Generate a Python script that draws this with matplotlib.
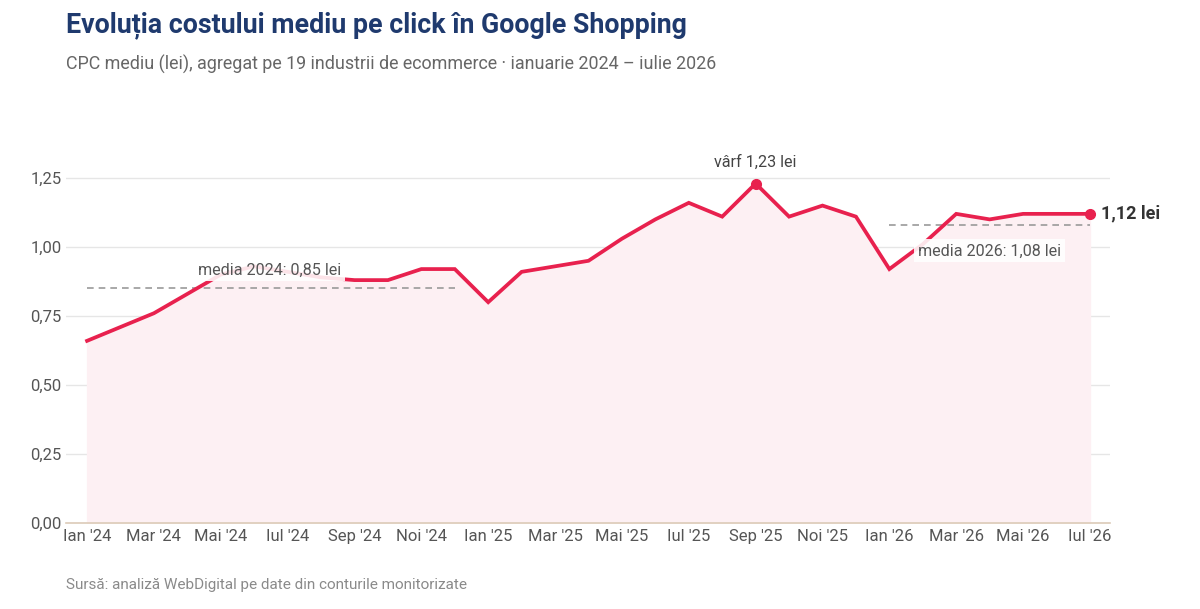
import matplotlib.pyplot as plt
import numpy as np

plt.rcParams['font.family'] = ['Roboto', 'DejaVu Sans']

# Data: average CPC (lei), Jan 2024 - Jul 2026
luni = ["Ian", "Feb", "Mar", "Apr", "Mai", "Iun", "Iul", "Aug", "Sep", "Oct", "Noi", "Dec"]
ani = [24] * 12 + [25] * 12 + [26] * 7
cpc = [0.66, 0.71, 0.76, 0.83, 0.90, 0.93, 0.91, 0.89, 0.88, 0.88, 0.92, 0.92,
       0.80, 0.91, 0.93, 0.95, 1.03, 1.10, 1.16, 1.11, 1.23, 1.11, 1.15, 1.11,
       0.92, 1.01, 1.12, 1.10, 1.12, 1.12, 1.12]
media_2024 = 0.85
media_2026 = 1.08

etichete = [f"{luni[i % 12]} '{ani[i]}" for i in range(len(cpc))]
x = np.arange(len(cpc))

red = '#e8214e'
gray_txt = '#555555'

fig = plt.figure(figsize=(12, 6.09), dpi=100)
ax = fig.add_axes([66 / 1200, 86 / 609, 1044 / 1200, 373 / 609])

ax.fill_between(x, cpc, 0, color='#fdf0f3', zorder=1)
ax.plot(x, cpc, color=red, lw=2.7, zorder=3, solid_joinstyle='miter')

# averages
ax.plot([0, 11], [media_2024, media_2024], ls=(0, (4, 3)), color='#9a9a9a', lw=1.2, zorder=2)
i26 = ani.index(26)
ax.plot([i26, len(cpc) - 1], [media_2026, media_2026], ls=(0, (4, 3)), color='#9a9a9a', lw=1.2, zorder=2)

ax.text(5.47, 0.917, "media 2024: 0,85 lei", ha='center', va='center', fontsize=11.6, color=gray_txt,
        zorder=4, bbox=dict(boxstyle='square,pad=0.2', fc='white', ec='none', alpha=0.88))
ax.text(24.86, 0.986, "media 2026: 1,08 lei", ha='left', va='center', fontsize=11.6, color=gray_txt,
        zorder=4, bbox=dict(boxstyle='square,pad=0.25', fc='white', ec='none', alpha=0.88))

# peak
ip = int(np.argmax(cpc))
ax.plot(x[ip], cpc[ip], 'o', color=red, ms=7, zorder=5)
ax.annotate(f"vârf {cpc[ip]:.2f} lei".replace('.', ','), (x[ip], cpc[ip]), xytext=(0, 10),
            textcoords='offset points', ha='center', va='bottom', fontsize=11.6, color='#444444')

# last value
ax.plot(x[-1], cpc[-1], 'o', color=red, ms=7, zorder=5)
ax.annotate(f"{cpc[-1]:.2f} lei".replace('.', ','), (x[-1], cpc[-1]), xytext=(8, 0),
            textcoords='offset points', ha='left', va='center', fontsize=13, fontweight='bold',
            color='#333333', annotation_clip=False)

ax.set_xlim(-0.63, 30.6)
ax.set_ylim(0, 1.3514)
ax.set_xticks(x[::2])
ax.set_xticklabels(etichete[::2])
yt = [0, 0.25, 0.5, 0.75, 1.0, 1.25]
ax.set_yticks(yt)
ax.set_yticklabels([f"{v:.2f}".replace('.', ',') for v in yt])
ax.tick_params(length=0, labelsize=12, colors=gray_txt, pad=3)
ax.tick_params(axis='x', pad=4)
ax.grid(axis='y', color='#e6e6e6', lw=1)
ax.set_axisbelow(True)
for s in ['top', 'right', 'left']:
    ax.spines[s].set_visible(False)
ax.spines['bottom'].set_color('#dccbb8')
ax.spines['bottom'].set_linewidth(1.2)

fig.text(66 / 1200, 1 - 25 / 609, "Evoluția costului mediu pe click în Google Shopping",
         fontsize=19.3, fontweight='bold', color='#1f3a6e', va='center')
fig.text(66 / 1200, 1 - 64 / 609,
         "CPC mediu (lei), agregat pe 19 industrii de ecommerce · ianuarie 2024 – iulie 2026",
         fontsize=12.9, color='#666666', va='center')
fig.text(66 / 1200, 1 - 585 / 609, "Sursă: analiză WebDigital pe date din conturile monitorizate",
         fontsize=11, color='#8a8a8a', va='center')

fig.savefig('out.png', dpi=100)
